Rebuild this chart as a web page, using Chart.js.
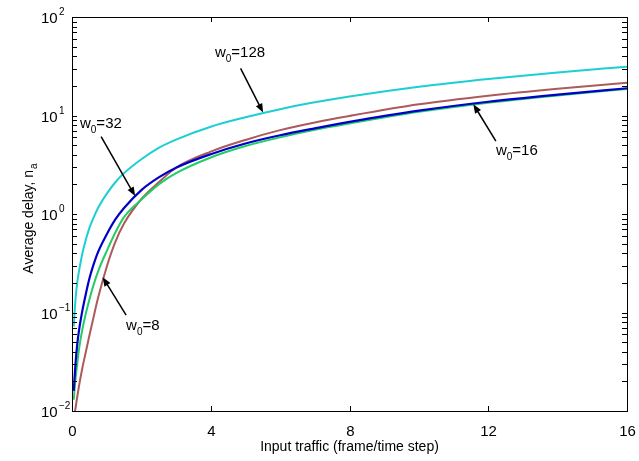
<!DOCTYPE html>
<html>
<head>
<meta charset="utf-8">
<script src="https://cdn.jsdelivr.net/npm/chart.js@4.4.1/dist/chart.umd.min.js"></script>
<style>
html, body { margin: 0; padding: 0; background: #fff; }
</style>
</head>
<body>
<canvas id="delay-chart" width="639" height="461"></canvas>
<script>
// input traffic (frame/time step)
var traffic = [0.05, 0.1, 0.15, 0.2, 0.3, 0.4, 0.5, 0.6, 0.75, 1, 1.25, 1.5, 2, 2.5, 3, 4, 5, 6, 7, 8, 10, 12, 14, 16];

// average delay for each initial window w0
var delayW128 = [0.072, 0.135, 0.2, 0.26, 0.4, 0.55, 0.72, 0.88, 1.15, 1.6, 2.1, 2.6, 3.6, 4.7, 5.7, 7.7, 9.6, 11.6, 13.6, 15.6, 19.6, 23.5, 27.4, 31.3];
var delayW32 = [0.016, 0.03, 0.047, 0.065, 0.105, 0.155, 0.22, 0.29, 0.41, 0.62, 0.88, 1.15, 1.75, 2.35, 2.95, 4.05, 5.2, 6.3, 7.4, 8.6, 11.2, 13.8, 16.3, 18.9];
var delayW16 = [0.013, 0.021, 0.03, 0.042, 0.068, 0.098, 0.135, 0.18, 0.26, 0.42, 0.65, 0.93, 1.4, 2.0, 2.6, 3.75, 4.9, 6.0, 7.15, 8.3, 10.9, 13.5, 16.0, 18.6];
var delayW8 = [0.0085, 0.0106, 0.0138, 0.0178, 0.0275, 0.04, 0.058, 0.083, 0.14, 0.29, 0.52, 0.8, 1.42, 2.1, 2.95, 4.3, 5.65, 7.1, 8.5, 9.9, 13.0, 15.9, 18.7, 21.5];

var xTicks = [0, 4, 8, 12, 16];
var yExponents = [-2, -1, 0, 1, 2];

// labels with arrows, in data units
var notes = [
  { w: '128', tx: 4.12, ty: 39.3, fx: 4.86, fy: 30.1, ax: 5.51, ay: 10.7 },
  { w: '32', tx: 0.23, ty: 7.5, fx: 0.84, fy: 6.1, ax: 1.82, ay: 1.52 },
  { w: '16', tx: 12.22, ty: 3.97, fx: 12.22, fy: 5.5, ax: 11.57, ay: 13.0 },
  { w: '8', tx: 1.56, ty: 0.066, fx: 1.56, fy: 0.094, ax: 0.885, ay: 0.228 }
];

var FONT = '"Liberation Sans", Arial, sans-serif';

function pts(ys) {
  var out = [];
  for (var i in traffic) {
    out.push({ x: traffic[i], y: ys[i] });
  }
  return out;
}

var axesPlugin = {
  id: 'matlabAxes',
  afterDatasetsDraw(chart) {
    var ctx = chart.ctx;
    var a = chart.chartArea;
    var xs = chart.scales.x;
    var ys = chart.scales.y;
    ctx.save();
    ctx.strokeStyle = '#000';
    ctx.fillStyle = '#000';
    ctx.lineWidth = 1;

    // box
    ctx.strokeRect(Math.round(a.left) + 0.5, Math.round(a.top) + 0.5, Math.round(a.right - a.left), Math.round(a.bottom - a.top));

    // x ticks
    ctx.font = '15px ' + FONT;
    ctx.textAlign = 'center';
    ctx.textBaseline = 'alphabetic';
    for (var i in xTicks) {
      var px = Math.round(xs.getPixelForValue(xTicks[i])) + 0.5;
      ctx.beginPath();
      ctx.moveTo(px, a.bottom); ctx.lineTo(px, a.bottom - 5);
      ctx.moveTo(px, a.top); ctx.lineTo(px, a.top + 5);
      ctx.stroke();
      ctx.fillText(String(xTicks[i]), px, a.bottom + 25);
    }
    ctx.font = '14px ' + FONT;
    ctx.fillText('Input traffic (frame/time step)', (a.left + a.right) / 2, a.bottom + 40);

    // y ticks, major and minor
    for (var e = -2; e < 2; e++) {
      for (var k = 1; k < 10; k++) {
        var py = Math.round(ys.getPixelForValue(k * Math.pow(10, e))) + 0.5;
        ctx.beginPath();
        ctx.moveTo(a.left, py); ctx.lineTo(a.left + 5, py);
        ctx.moveTo(a.right, py); ctx.lineTo(a.right - 5, py);
        ctx.stroke();
      }
    }
    ctx.textAlign = 'left';
    for (var j in yExponents) {
      var ty = ys.getPixelForValue(Math.pow(10, yExponents[j]));
      ctx.font = '15px ' + FONT;
      ctx.fillText('10', 41, ty + 6);
      ctx.font = '10px ' + FONT;
      var ex = yExponents[j] < 0 ? '\u2212' + Math.abs(yExponents[j]) : String(yExponents[j]);
      ctx.fillText(ex, 59, ty - 2);
    }

    // y title
    ctx.save();
    ctx.translate(33, 219);
    ctx.rotate(-Math.PI / 2);
    ctx.font = '14px ' + FONT;
    var main = 'Average delay, n';
    var w1 = ctx.measureText(main).width;
    ctx.font = '10px ' + FONT;
    var w2 = ctx.measureText('a').width;
    var sx = -(w1 + w2) / 2;
    ctx.font = '14px ' + FONT;
    ctx.fillText(main, sx, 0);
    ctx.font = '10px ' + FONT;
    ctx.fillText('a', sx + w1 + 1, 4);
    ctx.restore();

    // annotations
    for (var n in notes) {
      var nt = notes[n];
      var x0 = xs.getPixelForValue(nt.tx), y0 = ys.getPixelForValue(nt.ty);
      ctx.font = '15px ' + FONT;
      ctx.fillText('w', x0, y0);
      var ww = ctx.measureText('w').width;
      ctx.font = '10px ' + FONT;
      ctx.fillText('0', x0 + ww, y0 + 5);
      var zw = ctx.measureText('0').width;
      ctx.font = '15px ' + FONT;
      ctx.fillText('=' + nt.w, x0 + ww + zw, y0);

      var fx = xs.getPixelForValue(nt.fx), fy = ys.getPixelForValue(nt.fy);
      var tx = xs.getPixelForValue(nt.ax), tyy = ys.getPixelForValue(nt.ay);
      var ang = Math.atan2(tyy - fy, tx - fx);
      ctx.lineWidth = 1.5;
      ctx.beginPath();
      ctx.moveTo(fx, fy);
      ctx.lineTo(tx - 7 * Math.cos(ang), tyy - 7 * Math.sin(ang));
      ctx.stroke();
      ctx.beginPath();
      ctx.moveTo(tx, tyy);
      ctx.lineTo(tx - 9 * Math.cos(ang) + 3.5 * Math.sin(ang), tyy - 9 * Math.sin(ang) - 3.5 * Math.cos(ang));
      ctx.lineTo(tx - 9 * Math.cos(ang) - 3.5 * Math.sin(ang), tyy - 9 * Math.sin(ang) + 3.5 * Math.cos(ang));
      ctx.closePath();
      ctx.fill();
      ctx.lineWidth = 1;
    }
    ctx.restore();
  }
};

var chart = new Chart(document.getElementById('delay-chart'), {
  type: 'line',
  data: {
    datasets: [
      { label: 'w0=32', data: pts(delayW32), borderColor: '#0000c8', borderWidth: 2.2 },
      { label: 'w0=16', data: pts(delayW16), borderColor: '#22cc66', borderWidth: 2 },
      { label: 'w0=8', data: pts(delayW8), borderColor: '#ac5a5a', borderWidth: 2 },
      { label: 'w0=128', data: pts(delayW128), borderColor: '#1ccfd2', borderWidth: 2 }
    ]
  },
  options: {
    responsive: false,
    animation: false,
    devicePixelRatio: 1,
    layout: { padding: { left: 72, right: 12, top: 17, bottom: 50 } },
    elements: {
      point: { radius: 0 },
      line: { cubicInterpolationMode: 'monotone', fill: false }
    },
    scales: {
      x: { type: 'linear', min: 0, max: 16, display: false },
      y: { type: 'logarithmic', min: 0.01, max: 100, display: false }
    },
    plugins: {
      legend: { display: false },
      tooltip: { enabled: false }
    }
  },
  plugins: [axesPlugin]
});
</script>
</body>
</html>
